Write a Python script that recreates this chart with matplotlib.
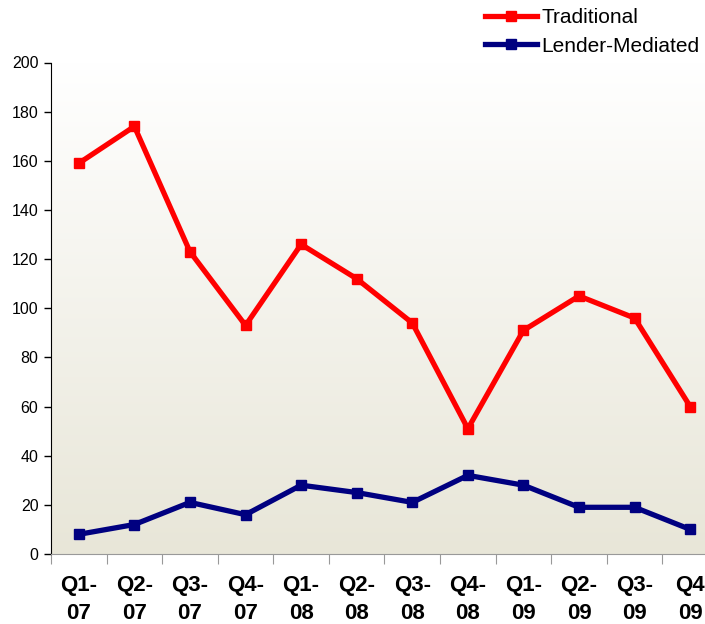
import matplotlib.pyplot as plt
import numpy as np
from matplotlib.colors import LinearSegmentedColormap

plt.rcParams['font.family'] = ['Liberation Sans', 'DejaVu Sans']

quarters = ['Q1-\n07', 'Q2-\n07', 'Q3-\n07', 'Q4-\n07',
            'Q1-\n08', 'Q2-\n08', 'Q3-\n08', 'Q4-\n08',
            'Q1-\n09', 'Q2-\n09', 'Q3-\n09', 'Q4\n09']
traditional = [159, 174, 123, 93, 126, 112, 94, 51, 91, 105, 96, 60]
lender_mediated = [8, 12, 21, 16, 28, 25, 21, 32, 28, 19, 19, 10]

fig = plt.figure(figsize=(7.05, 6.24), dpi=100)
ax = fig.add_axes([51 / 705, 1 - 554 / 624, 667 / 705, 491.5 / 624])

# gradient background, white at top to beige at bottom
cmap = LinearSegmentedColormap.from_list('bg', ['#e8e6d8', '#ffffff'])
grad = np.linspace(0, 1, 256).reshape(-1, 1)
ax.imshow(grad, cmap=cmap, aspect='auto', origin='lower',
          extent=(-0.5, 11.5, 0, 200), zorder=0)

x = np.arange(len(quarters))
ax.plot(x, traditional, color='#ff0000', lw=3.8, marker='s', ms=7.5,
        label='Traditional', zorder=3, clip_on=False)
ax.plot(x, lender_mediated, color='#000080', lw=3.8, marker='s', ms=7.5,
        label='Lender-Mediated', zorder=3, clip_on=False)

ax.set_xlim(-0.5, 11.5)
ax.set_ylim(0, 200)
ax.set_yticks(range(0, 201, 20))
ax.tick_params(axis='y', direction='out', length=5, width=1, labelsize=11.5, pad=4)

ax.set_xticks(np.arange(-0.5, 12, 1))
ax.set_xticklabels([])
ax.tick_params(axis='x', which='major', direction='out', length=7, color='#999999')
ax.set_xticks(x, minor=True)
ax.set_xticklabels(quarters, minor=True, fontsize=16, fontweight='bold',
                   linespacing=1.45)
ax.tick_params(axis='x', which='minor', length=0, pad=15)

for s in ['top', 'right']:
    ax.spines[s].set_visible(False)
ax.spines['bottom'].set_color('#999999')
ax.spines['left'].set_color('black')

fig.legend(loc='upper right', bbox_to_anchor=(0.995, 0.99), frameon=False,
           fontsize=15, handlelength=2.5, handletextpad=0.2, labelspacing=0.45,
           borderaxespad=0.0, borderpad=0.1)

fig.savefig('out.png', dpi=100)
